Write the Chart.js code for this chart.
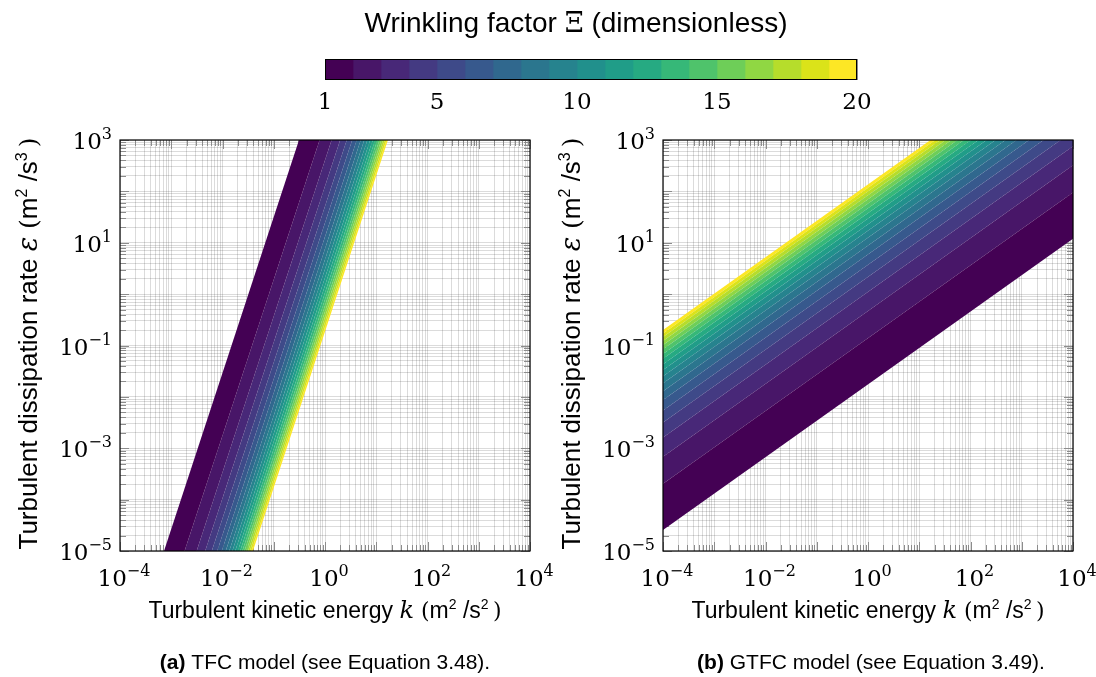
<!DOCTYPE html>
<html>
<head>
<meta charset="utf-8">
<script src="https://cdn.jsdelivr.net/npm/chart.js@4.4.0/dist/chart.umd.min.js"></script>
<style>
  html, body { margin: 0; padding: 0; background: #fff; width: 1096px; height: 677px; overflow: hidden; }
  canvas { position: absolute; }
  #cb { left: 0; top: 0; }
  #pa { left: 0; top: 110px; }
  #pb { left: 548px; top: 110px; }
</style>
</head>
<body>
<canvas id="cb" width="1096" height="130"></canvas>
<canvas id="pa" width="600" height="567"></canvas>
<canvas id="pb" width="548" height="567"></canvas>
<script>
// Contour levels of the wrinkling factor
const levels = [1, 2, 3, 4, 5, 6, 7, 8, 9, 10, 11, 12, 13, 14, 15, 16, 17, 18, 19, 20];

// TFC model: k at which each level line crosses eps = 1e-5 (bottom) and eps = 1e3 (top)
const tfcKBottom = [7.23e-4, 1.82e-3, 3.13e-3, 4.59e-3, 6.18e-3, 7.88e-3, 9.68e-3, 1.156e-2, 1.353e-2, 1.557e-2,
                    1.768e-2, 1.986e-2, 2.209e-2, 2.438e-2, 2.674e-2, 2.914e-2, 3.159e-2, 3.409e-2, 3.664e-2, 3.925e-2];
const tfcKTop = [0.311, 0.784, 1.346, 1.976, 2.66, 3.392, 4.167, 4.977, 5.825, 6.703,
                 7.611, 8.55, 9.51, 10.5, 11.51, 12.54, 13.6, 14.68, 15.77, 16.9];

// GTFC model: eps of each level line at k = 1e-4 (left) and k = 1e4 (right)
const gtfcEpsLeft = [2.57e-5, 2.042e-4, 6.864e-4, 1.622e-3, 3.162e-3, 5.453e-3, 8.646e-3, 1.289e-2, 1.833e-2, 2.512e-2,
                     3.341e-2, 4.333e-2, 5.503e-2, 6.867e-2, 8.442e-2, 0.1024, 0.1227, 0.1457, 0.1712, 0.1996];
const gtfcEpsRight = [12.02, 95.5, 321.1, 758.7, 1479, 2551, 4044, 6029, 8573, 11749,
                      15627, 20267, 25739, 32119, 39486, 47896, 57391, 68149, 80076, 93360];

// Axis ranges and labelled ticks
const kRange = [1e-4, 1e4];
const epsRange = [1e-5, 1e3];
const xTickExps = [-4, -2, 0, 2, 4];
const yTickExps = [3, 1, -1, -3, -5];
const cbTicks = [1, 5, 10, 15, 20];

// Viridis palette anchors, sampled for the 19 filled layers
const viridisAnchors = ['#440154', '#481567', '#482677', '#453781', '#3f4788', '#39558c', '#32648e', '#2d718e', '#287d8e', '#238a8d',
                        '#1f968b', '#20a386', '#29af7f', '#3cbc75', '#56c667', '#75d054', '#95d840', '#bade28', '#dde318', '#fde725'];

function hexToRgb(h) { return [1, 3, 5].map(i => parseInt(h.substr(i, 2), 16)); }
function viridis(t) {
  const p = t * (viridisAnchors.length - 1);
  const i = Math.min(Math.floor(p), viridisAnchors.length - 2);
  const f = p - i;
  const a = hexToRgb(viridisAnchors[i]), b = hexToRgb(viridisAnchors[i + 1]);
  const c = a.map((v, j) => Math.round(v + (b[j] - v) * f));
  return `rgb(${c[0]},${c[1]},${c[2]})`;
}
const nLayers = levels.length - 1;
const layerColors = Array.from({ length: nLayers }, (_, i) => viridis(i / (nLayers - 1)));

// Grid positions on a log axis: 1..9 x 10^n
function logGrid(lo, hi) {
  const out = [];
  for (let e = Math.round(Math.log10(lo)); e <= Math.round(Math.log10(hi)); e++) {
    for (let m = 1; m <= 9; m++) {
      const v = m * Math.pow(10, e);
      if (v <= hi * 1.0000001) out.push(v);
    }
  }
  return out;
}
const isDecade = v => Math.abs(Math.log10(v) - Math.round(Math.log10(v))) < 1e-9;

const SANS = '"Liberation Sans", Arial, sans-serif';
const SERIF = '"DejaVu Serif", serif';

function drawRich(ctx, runs, x, y, align) {
  let w = 0;
  for (const r of runs) { ctx.font = r.f; w += ctx.measureText(r.t).width; }
  let cx = align === 'center' ? x - w / 2 : align === 'right' ? x - w : x;
  ctx.textAlign = 'left';
  ctx.textBaseline = 'alphabetic';
  for (const r of runs) {
    ctx.font = r.f;
    ctx.fillText(r.t, cx, y + (r.dy || 0));
    cx += ctx.measureText(r.t).width;
  }
}
function powerLabel(exp) {
  return [
    { t: '10', f: '23px ' + SERIF },
    { t: (exp < 0 ? '\u2212' : '') + Math.abs(exp), f: '16px ' + SERIF, dy: -10 }
  ];
}
function axisTitle(words, sym, e1, e2, size) {
  const f = size + 'px ' + SANS;
  const fs = Math.round(size * 0.62) + 'px ' + SANS;
  const fp = (size - 1) + 'px ' + SERIF;
  const up = -Math.round(size * 0.4);
  return [
    { t: words, f },
    { t: sym, f: 'italic ' + (size + 1) + 'px ' + SERIF },
    { t: ' (', f: fp }, { t: 'm', f }, { t: e1, f: fs, dy: up },
    { t: ' /', f }, { t: 's', f }, { t: e2, f: fs, dy: up }, { t: '\u2009)', f: fp }
  ];
}

// Inner tick marks (drawn under the filled layers) and frame + text (drawn on top)
const panelDecor = {
  id: 'panelDecor',
  beforeDatasetsDraw(chart) {
    const { ctx, chartArea: a, scales: { x, y } } = chart;
    ctx.save();
    ctx.strokeStyle = '#8c8c8c';
    ctx.lineWidth = 1;
    ctx.beginPath();
    for (const v of logGrid(kRange[0], kRange[1])) {
      const px = Math.round(x.getPixelForValue(v)) + 0.5, len = isDecade(v) ? 9 : 6;
      ctx.moveTo(px, a.bottom); ctx.lineTo(px, a.bottom - len);
      ctx.moveTo(px, a.top); ctx.lineTo(px, a.top + len);
    }
    for (const v of logGrid(epsRange[0], epsRange[1])) {
      const py = Math.round(y.getPixelForValue(v)) + 0.5, len = isDecade(v) ? 9 : 6;
      ctx.moveTo(a.left, py); ctx.lineTo(a.left + len, py);
      ctx.moveTo(a.right, py); ctx.lineTo(a.right - len, py);
    }
    ctx.stroke();
    ctx.restore();
  },
  afterDraw(chart) {
    const { ctx, chartArea: a, scales: { x, y } } = chart;
    const txt = chart.options.plugins.panelDecor;
    ctx.save();
    ctx.strokeStyle = '#000';
    ctx.lineWidth = 1.2;
    ctx.strokeRect(a.left, a.top, a.right - a.left, a.bottom - a.top);
    ctx.fillStyle = '#000';
    for (const e of xTickExps) {
      drawRich(ctx, powerLabel(e), x.getPixelForValue(Math.pow(10, e)) + 4, a.bottom + 35, 'center');
    }
    for (const e of yTickExps) {
      drawRich(ctx, powerLabel(e), a.left - 8, y.getPixelForValue(Math.pow(10, e)) + 9, 'right');
    }
    const cx = (a.left + a.right) / 2, cy = (a.top + a.bottom) / 2;
    drawRich(ctx, axisTitle('Turbulent kinetic energy ', 'k', '2', '2', 23), cx, a.bottom + 67, 'center');
    ctx.save();
    ctx.translate(a.left - 83, cy - 2);
    ctx.rotate(-Math.PI / 2);
    drawRich(ctx, axisTitle('Turbulent dissipation rate ', '\u03b5', '2', '3', 26), 0, 0, 'center');
    ctx.restore();
    drawRich(ctx, [
      { t: txt.tag, f: 'bold 21px ' + SANS },
      { t: txt.caption, f: '21px ' + SANS }
    ], cx + txt.capShift, a.bottom + 118, 'center');
    ctx.restore();
  }
};

function logAxis(range) {
  return {
    type: 'logarithmic',
    min: range[0], max: range[1],
    afterBuildTicks: s => { s.ticks = logGrid(range[0], range[1]).map(v => ({ value: v })); },
    grid: { color: 'rgba(0,0,0,0.14)', lineWidth: 1, drawTicks: false },
    border: { display: false },
    ticks: { display: false, autoSkip: false }
  };
}

function layerSet(poly, color) {
  return { data: poly, fill: 'shape', backgroundColor: color, borderColor: 'transparent', borderWidth: 0, pointRadius: 0, tension: 0 };
}
function edgeSet(pts) {
  return { data: pts, fill: false, borderColor: 'rgba(255,255,255,0.35)', borderWidth: 0.7, pointRadius: 0, tension: 0 };
}

function panel(id, datasets, padding, tag, caption, capShift) {
  return new Chart(document.getElementById(id), {
    type: 'line',
    data: { datasets },
    options: {
      responsive: false,
      animation: false,
      events: [],
      layout: { padding },
      plugins: { legend: { display: false }, tooltip: { enabled: false }, panelDecor: { tag, caption, capShift } },
      scales: {
        x: Object.assign(logAxis(kRange), { afterFit: s => { s.height = 0; } }),
        y: Object.assign(logAxis(epsRange), { afterFit: s => { s.width = 0; } })
      }
    },
    plugins: [panelDecor]
  });
}

// (a) TFC: layers bounded by consecutive level lines between the bottom and top edges
const tfcSets = [];
for (let i = 0; i < nLayers; i++) {
  tfcSets.push(layerSet([
    { x: tfcKBottom[i], y: epsRange[0] }, { x: tfcKTop[i], y: epsRange[1] },
    { x: tfcKTop[i + 1], y: epsRange[1] }, { x: tfcKBottom[i + 1], y: epsRange[0] }
  ], layerColors[i]));
}
for (let i = 1; i < levels.length - 1; i++) {
  tfcSets.push(edgeSet([{ x: tfcKBottom[i], y: epsRange[0] }, { x: tfcKTop[i], y: epsRange[1] }]));
}

// (b) GTFC: layers bounded by consecutive level lines between the left and right edges
const gtfcSets = [];
for (let i = 0; i < nLayers; i++) {
  gtfcSets.push(layerSet([
    { x: kRange[0], y: gtfcEpsLeft[i] }, { x: kRange[1], y: gtfcEpsRight[i] },
    { x: kRange[1], y: gtfcEpsRight[i + 1] }, { x: kRange[0], y: gtfcEpsLeft[i + 1] }
  ], layerColors[i]));
}
for (let i = 1; i < levels.length - 1; i++) {
  gtfcSets.push(edgeSet([{ x: kRange[0], y: gtfcEpsLeft[i] }, { x: kRange[1], y: gtfcEpsRight[i] }]));
}

panel('pa', tfcSets, { left: 120, top: 30, right: 70, bottom: 126 }, '(a)', ' TFC model (see Equation 3.48).', 0);
panel('pb', gtfcSets, { left: 115, top: 30, right: 23, bottom: 126 }, '(b)', ' GTFC model (see Equation 3.49).', 3);

// Colour bar: one floating bar per layer on a linear Ξ axis
const cbFrame = {
  id: 'cbFrame',
  afterDraw(chart) {
    const { ctx, chartArea: a } = chart;
    ctx.save();
    ctx.strokeStyle = '#000';
    ctx.lineWidth = 1;
    ctx.strokeRect(a.left + 0.5, a.top + 0.5, a.right - a.left - 1, a.bottom - a.top - 1);
    ctx.fillStyle = '#000';
    drawRich(ctx, [
      { t: 'Wrinkling factor ', f: '28px ' + SANS },
      { t: '\u039e', f: '27px ' + SERIF },
      { t: ' (dimensionless)', f: '28px ' + SANS }
    ], (a.left + a.right) / 2 - 15, 32, 'center');
    ctx.restore();
  }
};

new Chart(document.getElementById('cb'), {
  type: 'bar',
  data: {
    labels: [''],
    datasets: layerColors.map((c, i) => ({
      data: [[levels[i], levels[i + 1]]],
      backgroundColor: c, borderWidth: 0, barPercentage: 1, categoryPercentage: 1, grouped: false
    }))
  },
  options: {
    indexAxis: 'y',
    responsive: false,
    animation: false,
    events: [],
    layout: { padding: { left: 325, right: 239, top: 59, bottom: 0 } },
    plugins: { legend: { display: false }, tooltip: { enabled: false } },
    scales: {
      x: {
        type: 'linear', min: levels[0], max: levels[levels.length - 1], z: 1,
        afterBuildTicks: s => { s.ticks = cbTicks.map(v => ({ value: v })); },
        afterFit: s => { s.height = 50; },
        grid: { color: '#8a8a8a', lineWidth: 1, drawTicks: false },
        border: { display: false },
        ticks: { font: { family: 'DejaVu Serif', size: 23 }, color: '#000', padding: 9, maxRotation: 0, autoSkip: false }
      },
      y: {
        afterFit: s => { s.width = 0; },
        grid: { display: false }, border: { display: false }, ticks: { display: false }
      }
    }
  },
  plugins: [cbFrame]
});
</script>
</body>
</html>
